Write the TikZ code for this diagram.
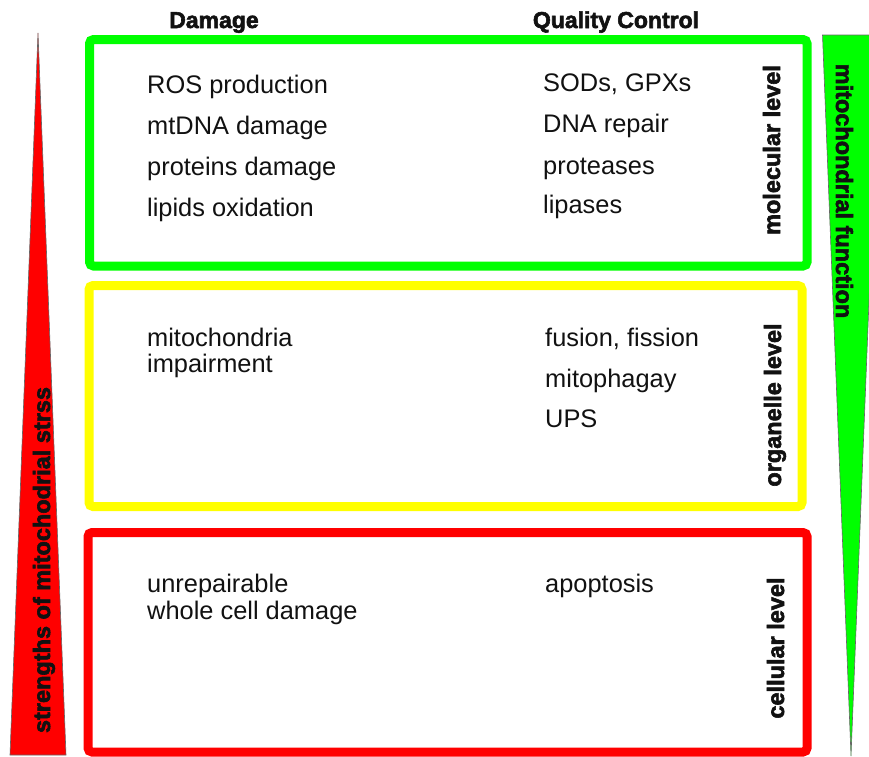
\documentclass[tikz,border=0pt]{standalone}
\usepackage{fontspec}
\setmainfont{Liberation Sans}
\definecolor{gg}{HTML}{00FF00}
\definecolor{yy}{HTML}{FFFF00}
\definecolor{rr}{HTML}{FF0000}
\definecolor{txt}{HTML}{111111}
\newfontfamily\heavyfont[FakeBold=2.5]{Liberation Sans Bold}
\begin{document}
\begin{tikzpicture}[x=1pt,y=-1pt,
  levelbox/.style={line width=9pt,rounded corners=4pt},
  item/.style={anchor=base west,inner sep=0pt,text=txt,font=\fontsize{25.4}{29}\selectfont},
  head/.style={anchor=base,inner sep=0pt,text=txt,font=\heavyfont\fontsize{23}{27}\selectfont},
  vlab/.style={anchor=base,inner sep=0pt,text=txt,font=\heavyfont\fontsize{23.5}{27}\selectfont},
  tri/.style={draw=black!60,line width=0.6pt,line join=miter}]
\useasboundingbox (0,0) rectangle (869,756);
\clip (0,0) rectangle (869,756);
% triangles
\path[tri,fill=rr] (38,33) -- (66,755) -- (10,755) -- cycle;
\path[tri,fill=gg] (822.5,35) -- (879.5,35) -- (851,756) -- cycle;
% boxes
\draw[levelbox,draw=gg] (89.5,39.5) rectangle (807,266);
\draw[levelbox,draw=yy] (89,285.5) rectangle (802,506.5);
\draw[levelbox,draw=rr] (88,532.5) rectangle (807,752);
% headings
\node[head] (hd) at (214,28) {Damage};
\node[head] (hq) at (616,28) {Quality Control};
% molecular
\node[item] (d1) at (147,93) {ROS production};
\node[item] (d2) at (147,134.5) {mtDNA damage};
\node[item] (d3) at (147,175.5) {proteins damage};
\node[item] (d4) at (147,216.5) {lipids oxidation};
\node[item] (q1) at (543,91.5) {SODs, GPXs};
\node[item] (q2) at (543,132.5) {DNA repair};
\node[item] (q3) at (543,174) {proteases};
\node[item] (q4) at (543,213.5) {lipases};
% organelle
\node[item] (d5) at (147,346) {mitochondria};
\node[item] (d6) at (147,372.5) {impairment};
\node[item] (q5) at (545,346) {fusion, fission};
\node[item] (q6) at (545,387) {mitophagay};
\node[item] (q7) at (545,427) {UPS};
% cellular
\node[item] (d7) at (147,592) {unrepairable};
\node[item] (d8) at (147,619) {whole cell damage};
\node[item] (q8) at (545,592) {apoptosis};
% vertical labels
\node[vlab,rotate=90] (lm) at (780,150) {molecular level};
\node[vlab,rotate=90] (lo) at (781,405) {organelle level};
\node[vlab,rotate=90] (lc) at (784,648) {cellular level};
\node[vlab,rotate=-90] (lf) at (836,191) {mitochondrial function};
\node[vlab,rotate=90] (ls) at (50,560) {strengths of mitochodrial strss};
\end{tikzpicture}
\end{document}
